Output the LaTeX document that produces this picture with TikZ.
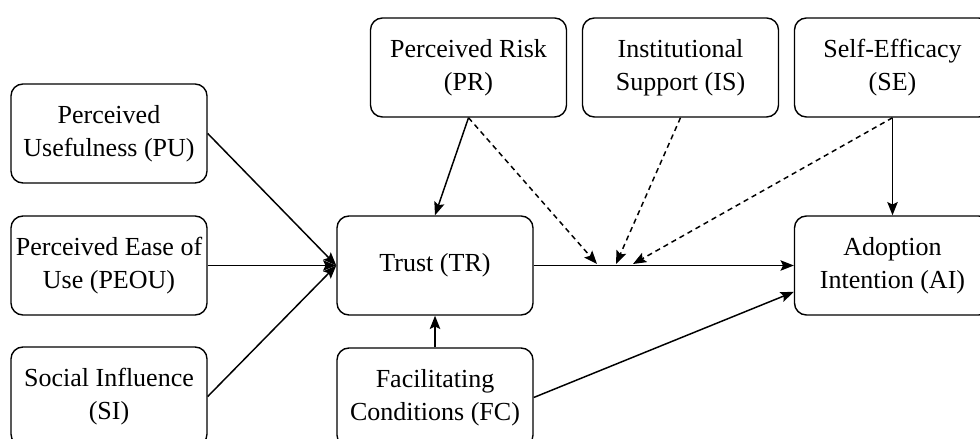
\documentclass[tikz,border=0pt]{standalone}
\usepackage{fontspec}
\setmainfont{Liberation Serif}
\usetikzlibrary{arrows.meta}
\begin{document}
\begin{tikzpicture}[x=0.025cm, y=-0.025cm,
        box/.style={draw, rounded corners=0.3cm, line width=1pt, minimum width=4.9cm, minimum height=2.475cm, inner sep=2pt, align=center, font=\fontsize{18.5}{23.5}\selectfont},
        arr/.style={line width=1.05pt, -{Stealth[length=0.33cm, width=0.26cm, inset=0.06cm]}},
        darr/.style={arr, dash pattern=on 0.13cm off 0.1cm}]
        \useasboundingbox (0,0) rectangle (980,439);

        \node[box] (PU) at (109,133.5) {Perceived\\Usefulness (PU)};
        \node[box] (PEOU) at (109,265.5) {Perceived Ease of\\Use (PEOU)};
        \node[box] (SI) at (109,396.5) {Social Influence\\(SI)};
        \node[box] (TR) at (435,265.5) {Trust (TR)};
        \node[box] (FC) at (435,397.5) {Facilitating\\Conditions (FC)};
        \node[box] (PR) at (468.5,67.5) {Perceived Risk\\(PR)};
        \node[box] (IS) at (680.5,67.5) {Institutional\\Support (IS)};
        \node[box] (SE) at (892.5,67.5) {Self-Efficacy\\(SE)};
        \node[box] (AI) at (892.5,265.5) {Adoption\\Intention (AI)};

        \coordinate (m1) at (597,264);
        \coordinate (m2) at (616,264);
        \coordinate (m3) at (633,264);

        \draw[arr] (PU.east) -- (TR.west);
        \draw[arr] (PEOU.east) -- (TR.west);
        \draw[arr] (SI.east) -- (TR.west);
        \draw[arr] (PR.south) -- (TR.north);
        \draw[arr] (FC.north) -- (TR.south);
        \draw[arr] (TR.east) -- (AI.west);
        \draw[arr] (FC.east) -- (AI.195);
        \draw[arr] (SE.south) -- (AI.north);

        \draw[darr] (PR.south) -- (m1);
        \draw[darr] (IS.south) -- (m2);
        \draw[darr] (SE.south) -- (m3);

        \end{tikzpicture}
\end{document}
